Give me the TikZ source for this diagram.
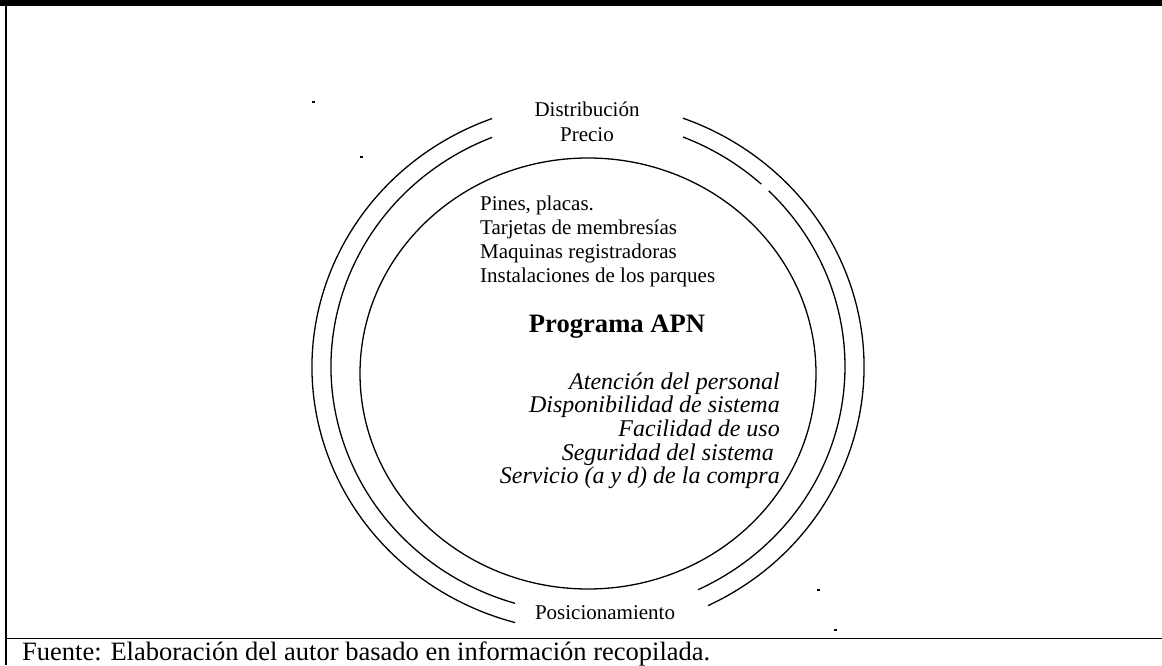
\documentclass[tikz,border=0pt]{standalone}
\usepackage{fontspec}
\setmainfont{Liberation Serif}
\begin{document}
\begin{tikzpicture}[x=1pt,y=1pt,
  ring/.style={line width=1.3pt},
  frameline/.style={line width=1.4pt},
  txt/.style={inner sep=0pt,font=\fontsize{21}{24}\selectfont},
  itxt/.style={inner sep=0pt,font=\fontsize{24}{24}\selectfont\itshape},
  dotmark/.style={fill=black}]
\useasboundingbox (0,0) rectangle (1162,665);
% frame
\fill[black] (0,659) rectangle (1162,665);
\draw[frameline] (6,659) -- (6,0);
\draw[frameline] (6,26.5) -- (1162,26.5);
% centres
\coordinate (Ci) at (588,291.5);
\coordinate (Cm) at (588,298.5);
\coordinate (Co) at (588,298);
% inner ring
\draw[ring] (Ci) ellipse [x radius=228, y radius=215.5];
% middle ring
\draw[ring] ([shift={(111.9:257 and 247)}]Cm) arc[start angle=111.9, end angle=253.5, x radius=257, y radius=247];
\draw[ring] ([shift={(-64.66:257 and 247)}]Cm) arc[start angle=-64.66, end angle=45.3, x radius=257, y radius=247];
\draw[ring] ([shift={(47.6:257 and 247)}]Cm) arc[start angle=47.6, end angle=68.3, x radius=257, y radius=247];
% outer ring
\draw[ring] ([shift={(110.35:276 and 265)}]Co) arc[start angle=110.35, end angle=254.7, x radius=276, y radius=265];
\draw[ring] ([shift={(-64.2:276 and 265)}]Co) arc[start angle=-64.2, end angle=69.9, x radius=276, y radius=265];
% labels
\node[txt,anchor=base] (dist) at (587,548.5) {Distribución};
\node[txt,anchor=base] (prec) at (587,523.3) {Precio};
\node[txt,anchor=base west] (l1) at (480,454) {Pines, placas.};
\node[txt,anchor=base west] (l2) at (480,430.3) {Tarjetas de membresías};
\node[txt,anchor=base west] (l3) at (480,406.6) {Maquinas registradoras};
\node[txt,anchor=base west] (l4) at (480,382.9) {Instalaciones de los parques};
\node[inner sep=0pt,font=\fontsize{26.6}{30}\selectfont\bfseries,anchor=base] (prog) at (617,332) {Programa APN};
\node[itxt,anchor=base east] (r1) at (780,276) {Atención del personal};
\node[itxt,anchor=base east] (r2) at (780,252.3) {Disponibilidad de sistema};
\node[itxt,anchor=base east] (r3) at (780,228.6) {Facilidad de uso};
\node[itxt,anchor=base east] (r4) at (774,204.9) {Seguridad del sistema};
\node[itxt,anchor=base east] (r5) at (780,181.2) {Servicio (a y d) de la compra};
\node[txt,anchor=base] (pos) at (605,46) {Posicionamiento};
\node[inner sep=0pt,font=\fontsize{26.5}{28}\selectfont,anchor=base west] (fuente) at (22,5) {Fuente: Elaboración del autor basado en información recopilada.};
% stray dots
\fill[dotmark] (312,561.5) rectangle (315,563.5);
\fill[dotmark] (359.5,506.5) rectangle (362.5,508.5);
\fill[dotmark] (816.5,74.5) rectangle (819.5,76.5);
\fill[dotmark] (834,34) rectangle (837,36);
\end{tikzpicture}
\end{document}
